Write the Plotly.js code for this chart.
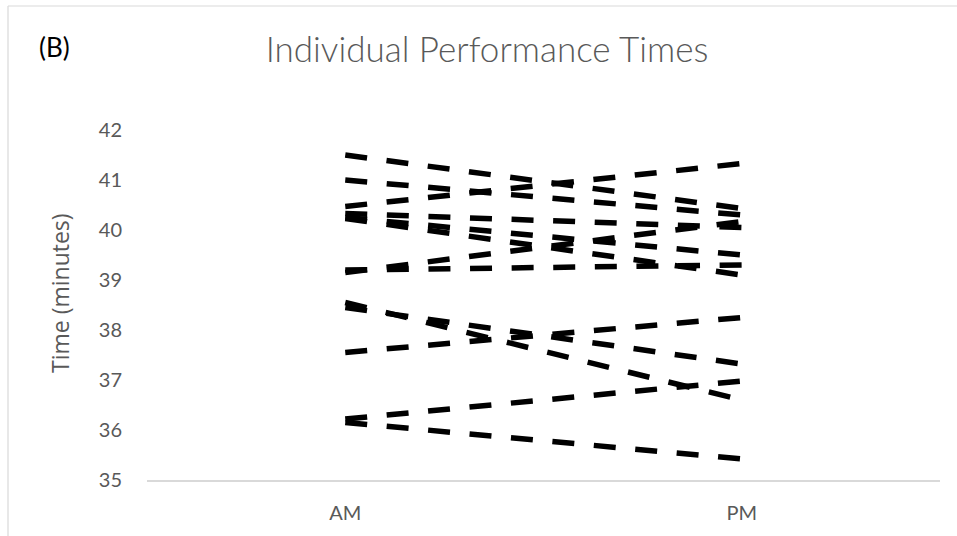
<!DOCTYPE html>
<html>
<head>
<meta charset="utf-8">
<script src="https://cdn.plot.ly/plotly-3.0.1.min.js"></script>
<style>html,body{margin:0;padding:0;background:#fff;}#chart{width:957px;height:536px;}</style>
</head>
<body>
<div id="chart"></div>
<script>
var sessions = ['AM', 'PM'];
var amTimes = [41.5, 41.0, 40.47, 40.33, 40.25, 40.23, 39.15, 39.2, 38.55, 38.45, 37.55, 36.22, 36.15];
var pmTimes = [40.43, 40.3, 41.33, 40.05, 39.5, 39.1, 40.17, 39.3, 36.6, 37.32, 38.25, 36.98, 35.42];
var yTicks = [35, 36, 37, 38, 39, 40, 41, 42];

var traces = amTimes.map(function (am, i) {
  return {
    type: 'scatter', mode: 'lines',
    x: sessions, y: [am, pmTimes[i]],
    line: {color: '#000000', width: 5.5, dash: '22px,19.6px'},
    hoverinfo: 'skip', showlegend: false
  };
});

var L = 147, R = 940, T = 130, B = 480;
var W = R - L, H = B - T;
function px(x) { return (x - L) / W; }
function py(y) { return (B - y) / H; }

var layout = {
  width: 957, height: 536,
  margin: {l: L, r: 957 - R, t: T, b: 536 - B, pad: 0},
  paper_bgcolor: '#ffffff', plot_bgcolor: '#ffffff',
  showlegend: false,
  font: {family: 'Lato, sans-serif', color: '#595959'},
  title: {
    text: 'Individual Performance Times',
    font: {family: 'Lato, sans-serif', size: 35, color: '#595959', weight: 300},
    x: 487 / 957, xanchor: 'center', y: 1 - 50 / 536, yanchor: 'middle'
  },
  xaxis: {
    type: 'category', range: [-0.5, 1.5],
    showline: true, linecolor: '#d9d9d9', linewidth: 1.5,
    showgrid: false, zeroline: false, ticks: '',
    tickfont: {family: 'Lato, sans-serif', size: 20, color: '#595959'},
    ticklabelstandoff: 14, fixedrange: true
  },
  yaxis: {
    range: [35, 42], tickvals: yTicks, ticktext: yTicks.map(String),
    showline: false, showgrid: false, zeroline: false, ticks: '',
    tickfont: {family: 'Lato, sans-serif', size: 20, color: '#595959'},
    ticklabelstandoff: 24,
    fixedrange: true
  },
  annotations: [{
    text: '(B)', xref: 'paper', yref: 'paper', showarrow: false,
    x: px(54), y: py(47), xanchor: 'center', yanchor: 'middle',
    font: {family: 'Lato, sans-serif', size: 26, color: '#000000'}
  }, {
    text: 'Time (minutes)', xref: 'paper', yref: 'paper', showarrow: false,
    x: px(60), y: py(293), xanchor: 'center', yanchor: 'middle', textangle: -90,
    font: {family: 'Open Sans, sans-serif', size: 23, color: '#595959'}
  }],
  shapes: [
    {type: 'line', xref: 'paper', yref: 'paper', x0: px(8), x1: px(8), y0: py(536), y1: py(6), line: {color: '#d9d9d9', width: 1.2}},
    {type: 'line', xref: 'paper', yref: 'paper', x0: px(8), x1: px(957), y0: py(6), y1: py(6), line: {color: '#d9d9d9', width: 1.2}}
  ]
};

Plotly.newPlot('chart', traces, layout, {staticPlot: true, displayModeBar: false});
</script>
</body>
</html>
